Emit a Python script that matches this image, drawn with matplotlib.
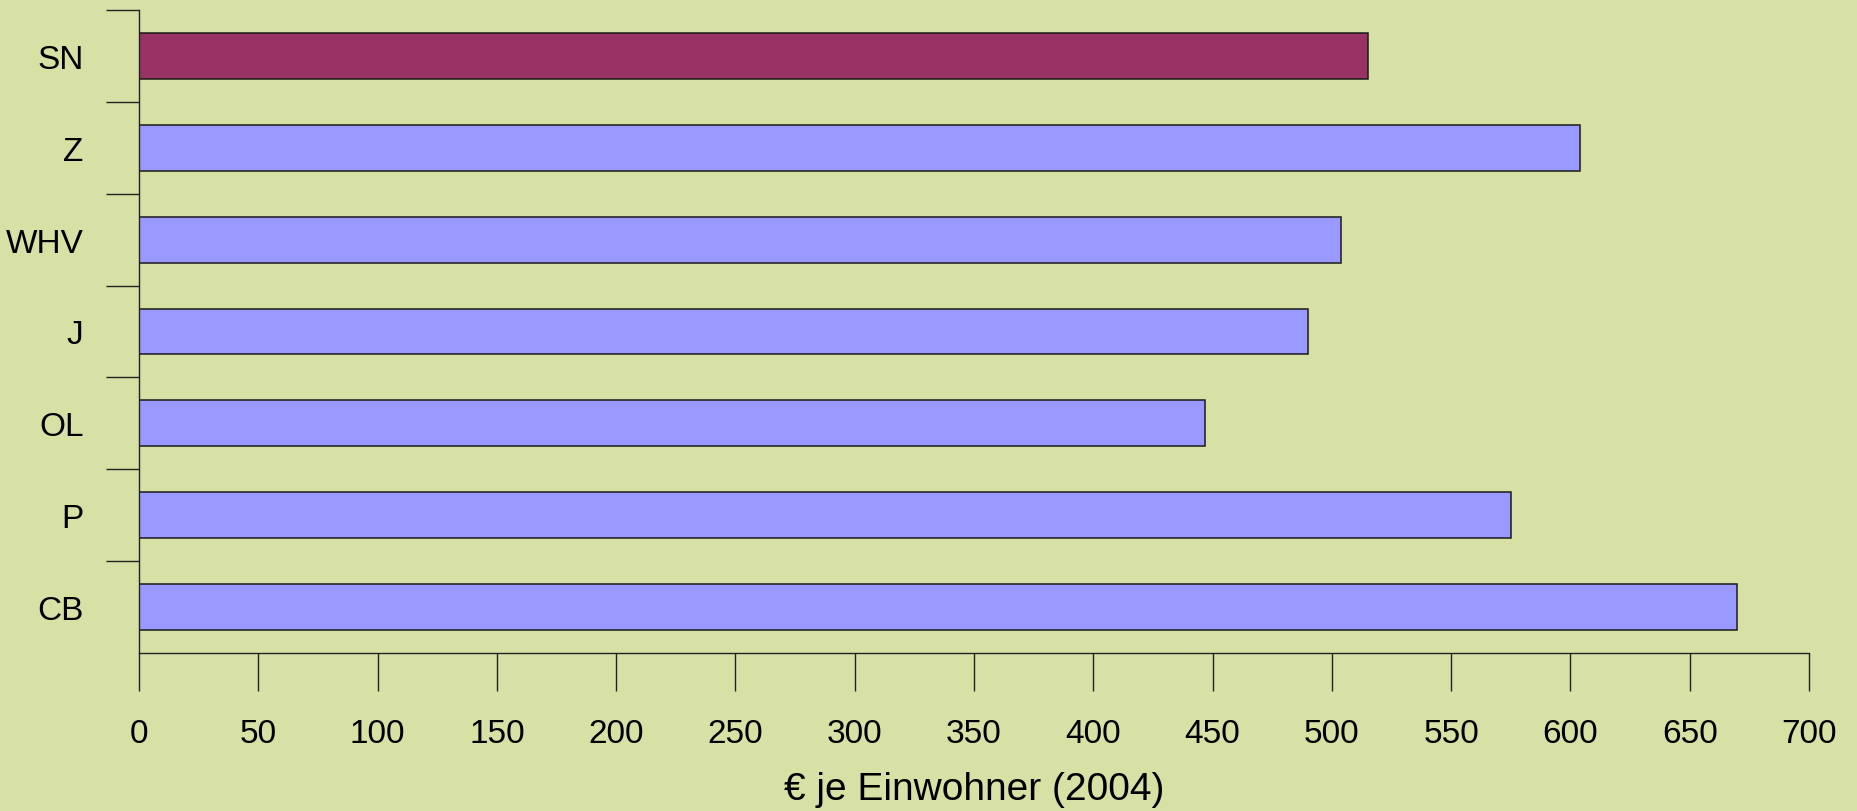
import numpy as np
import matplotlib.pyplot as plt
from matplotlib.ticker import FixedLocator

# Datos (de abajo hacia arriba)
categorias = ['CB', 'P', 'OL', 'J', 'WHV', 'Z', 'SN']
valores = [670, 575, 447, 490, 504, 604, 515]
colores = ['#9999FF'] * 6 + ['#993366']
ticks_x = list(range(0, 701, 50))
etiqueta_x = '€ je Einwohner (2004)'

plt.rcParams['font.family'] = ['Liberation Sans', 'DejaVu Sans']

fondo = '#D7E0A5'
fig = plt.figure(figsize=(18.58, 8.12), dpi=100, facecolor=fondo)
ax = fig.add_axes([139 / 1858, 1 - 654 / 812, (1809 - 139) / 1858, (654 - 11) / 812])
ax.set_facecolor(fondo)

y = np.arange(len(categorias))
ax.barh(y, valores, height=0.5, color=colores, edgecolor='#1a1a1a', linewidth=1.1)

ax.set_xlim(0, 700)
ax.set_ylim(-0.5, len(categorias) - 0.5)

ax.set_xticks(ticks_x)
ax.set_xticklabels([str(t) for t in ticks_x], fontsize=24)
ax.tick_params(axis='x', length=27, width=1, color='#222222', pad=20)

ax.set_yticks(y)
ax.set_yticklabels(categorias, fontsize=24)
ax.tick_params(axis='y', which='major', length=0, pad=40)
# marcas entre categorias (sin la de abajo)
ax.yaxis.set_minor_locator(FixedLocator(np.arange(0.5, len(categorias), 1.0)))
ax.tick_params(axis='y', which='minor', length=24, width=1, color='#222222')

for s in ['top', 'right']:
    ax.spines[s].set_visible(False)
for s in ['left', 'bottom']:
    ax.spines[s].set_color('#222222')
    ax.spines[s].set_linewidth(1)

ax.set_xlabel(etiqueta_x, fontsize=28, labelpad=16)

fig.savefig('out.png', dpi=100, facecolor=fondo)
